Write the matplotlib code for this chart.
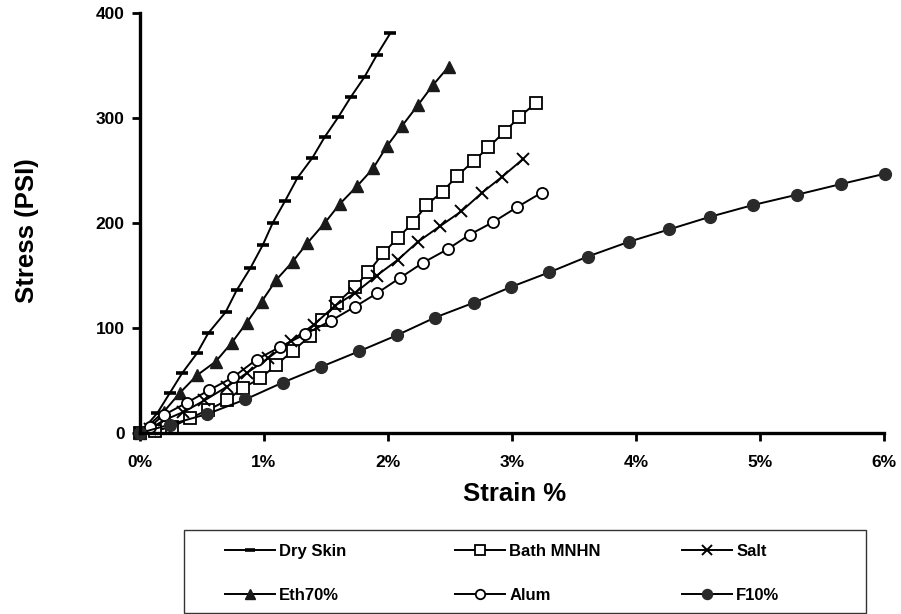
import matplotlib
matplotlib.use("Agg")
import matplotlib.pyplot as plt
from matplotlib.patches import Rectangle

plt.rcParams['font.family'] = ['Liberation Sans', 'DejaVu Sans']
plt.rcParams['font.weight'] = 'bold'

# ---- data (strain %, stress PSI) ----
dry_x = [0, 0.14, 0.24, 0.34, 0.46, 0.55, 0.69, 0.78, 0.89, 0.99, 1.07, 1.17, 1.27, 1.39, 1.49, 1.60, 1.70, 1.81, 1.91, 2.02]
dry_y = [0, 19, 38, 57, 76, 95, 115, 136, 157, 179, 200, 221, 243, 262, 282, 301, 320, 339, 360, 381]

eth_x = [0, 0.19, 0.32, 0.46, 0.61, 0.74, 0.86, 0.98, 1.10, 1.23, 1.35, 1.49, 1.61, 1.75, 1.88, 1.99, 2.11, 2.24, 2.36, 2.49]
eth_y = [0, 20, 38, 55, 68, 86, 105, 125, 146, 163, 181, 200, 218, 235, 252, 273, 292, 312, 331, 349]

bath_x = [0, 0.12, 0.26, 0.40, 0.55, 0.70, 0.83, 0.97, 1.10, 1.23, 1.37, 1.47, 1.59, 1.73, 1.84, 1.96, 2.08, 2.20, 2.31, 2.44, 2.56, 2.69, 2.81, 2.94, 3.06, 3.19]
bath_y = [0, 2, 6, 14, 22, 31, 43, 52, 65, 78, 92, 108, 124, 139, 153, 171, 186, 200, 217, 230, 245, 259, 272, 287, 301, 314]

salt_x = [0, 0.08, 0.19, 0.35, 0.52, 0.70, 0.86, 1.03, 1.22, 1.40, 1.57, 1.73, 1.91, 2.08, 2.24, 2.42, 2.59, 2.76, 2.92, 3.09]
salt_y = [0, 4, 12, 20, 31, 44, 57, 71, 88, 103, 121, 133, 150, 165, 182, 197, 211, 229, 244, 261]

alum_x = [0, 0.08, 0.19, 0.38, 0.56, 0.75, 0.94, 1.13, 1.33, 1.54, 1.73, 1.91, 2.10, 2.28, 2.48, 2.66, 2.85, 3.04, 3.24]
alum_y = [0, 6, 17, 29, 41, 53, 70, 82, 94, 107, 120, 133, 148, 162, 175, 189, 201, 215, 229]

f10_x = [0, 0.24, 0.54, 0.85, 1.15, 1.46, 1.77, 2.07, 2.38, 2.69, 2.99, 3.30, 3.61, 3.94, 4.27, 4.60, 4.94, 5.30, 5.65, 6.01]
f10_y = [0, 8, 18, 32, 48, 63, 78, 93, 110, 124, 139, 153, 168, 182, 194, 206, 217, 227, 237, 247]

x_ticks = [0, 1, 2, 3, 4, 5, 6]
x_ticklabels = ['0%', '1%', '2%', '3%', '4%', '5%', '6%']
y_ticks = [0, 100, 200, 300, 400]

W, H = 901, 614
fig = plt.figure(figsize=(W / 100, H / 100), dpi=100)
ax = fig.add_axes([140 / W, 1 - 433 / H, (884 - 140) / W, (433 - 13) / H])

lw = 1.4
l_dry, = ax.plot(dry_x, dry_y, color='black', lw=lw, marker='_', ms=8.5, mew=2.6, label='Dry Skin')
l_bath, = ax.plot(bath_x, bath_y, color='black', lw=lw, marker='s', ms=8, mfc='white', mec='black', mew=1.3, label='Bath MNHN')
l_salt, = ax.plot(salt_x, salt_y, color='black', lw=lw, marker='x', ms=9, mew=1.4, label='Salt')
l_eth, = ax.plot(eth_x, eth_y, color='black', lw=lw, marker='^', ms=8, mfc='#1a1a1a', mec='#1a1a1a', label='Eth70%')
l_alum, = ax.plot(alum_x, alum_y, color='black', lw=lw, marker='o', ms=8, mfc='white', mec='black', mew=1.3, label='Alum')
l_f10, = ax.plot(f10_x, f10_y, color='black', lw=lw, marker='o', ms=8.5, mfc='#2a2a2a', mec='#2a2a2a', label='F10%')

ax.set_xlim(0, 6)
ax.set_ylim(0, 400)
ax.set_xticks(x_ticks)
ax.set_xticklabels(x_ticklabels)
ax.set_yticks(y_ticks)
for s in ['top', 'right']:
    ax.spines[s].set_visible(False)
for s in ['left', 'bottom']:
    ax.spines[s].set_linewidth(2.4)
ax.tick_params(axis='both', direction='out', length=6, width=2, labelsize=12.5, pad=5)
ax.tick_params(axis='x', pad=10)
for lab in ax.get_xticklabels() + ax.get_yticklabels():
    lab.set_fontweight('bold')
for l in ax.get_lines():
    l.set_clip_on(False)

ax.set_xlabel('Strain %', fontsize=18.5, fontweight='bold')
ax.set_ylabel('Stress (PSI)', fontsize=18.5, fontweight='bold')
ax.xaxis.set_label_coords((515 - 140) / 744, -(482 - 433) / 420)
ax.yaxis.set_label_coords(-(140 - 39) / 744, (433 - 231) / 420)

# legend frame
fig.patches.append(Rectangle((184 / W, 1 - 613 / H), (866 - 184) / W, (613 - 530) / H,
                             transform=fig.transFigure, fill=False, edgecolor='#333333', lw=1.0))

cols = [([l_dry, l_eth], 225), ([l_bath, l_alum], 455), ([l_salt, l_f10], 682)]
for handles, xpx in cols:
    fig.legend(handles=handles, labels=[h.get_label() for h in handles],
               loc='center left', bbox_to_anchor=(xpx / W, 1 - 573.5 / H),
               frameon=False, borderpad=0, borderaxespad=0, markerscale=0.85,
               handlelength=3.0, handletextpad=0.25, labelspacing=1.7,
               prop={'size': 12, 'weight': 'bold'})

fig.savefig('out.png', dpi=100)
